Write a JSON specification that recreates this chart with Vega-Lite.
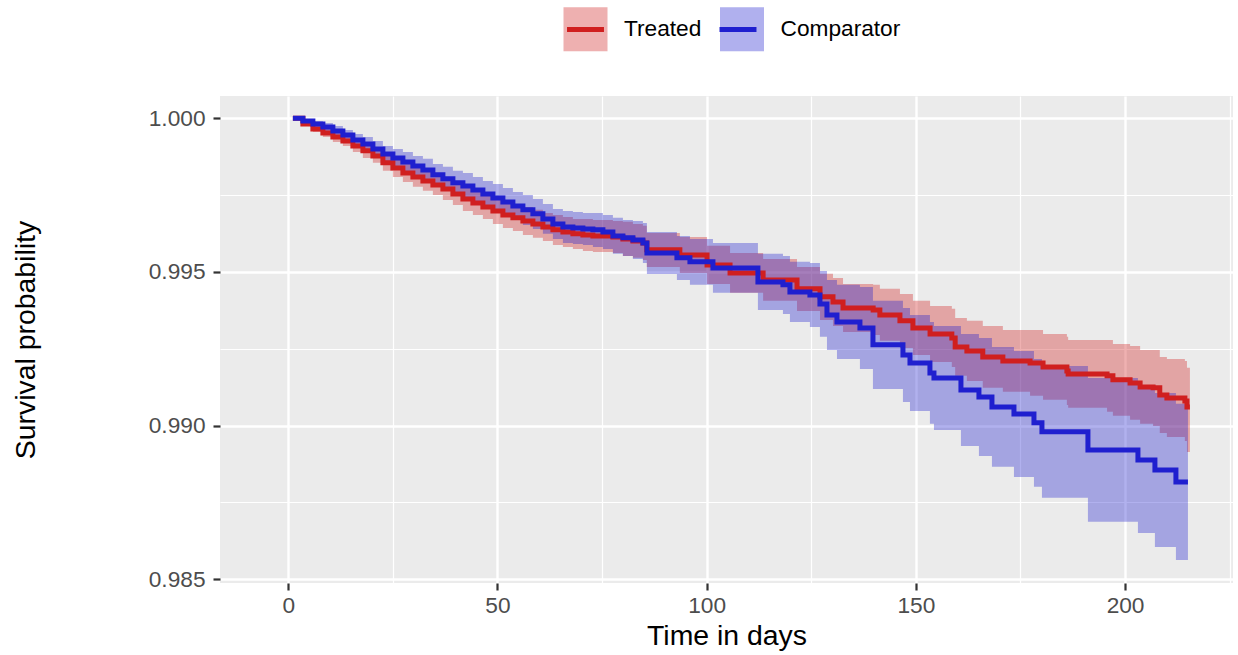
{
  "$schema": "https://vega.github.io/schema/vega-lite/v6.json",
  "width": 1013,
  "height": 487,
  "autosize": {"type": "none"},
  "padding": {"left": 220, "top": 96, "right": 5, "bottom": 72},
  "background": "white",
  "config": {
    "view": {"fill": "#EBEBEB", "stroke": null},
    "font": "Liberation Sans",
    "axis": {
      "domain": false, "grid": true, "gridColor": "#FFFFFF", "gridWidth": 2.4,
      "tickColor": "#333333", "tickWidth": 2.2, "tickSize": 7,
      "labelFont": "Liberation Sans", "labelFontSize": 22.7, "labelColor": "#4D4D4D",
      "titleFont": "Liberation Sans", "titleFontSize": 28.4, "titleFontWeight": "normal", "titleColor": "#000000"
    },
    "legend": {
      "padding": 0, "labelFont": "Liberation Sans", "labelFontSize": 22.7, "labelColor": "#000000",
      "labelOffset": 14, "columnPadding": 7.5, "symbolSize": 1936, "symbolStrokeWidth": 5
    }
  },
  "datasets": {
    "km": [
      {"group":"Treated","day":1.12,"surv":1.0,"lo":1.0,"up":1.0},
      {"group":"Treated","day":3.51,"surv":0.99981,"lo":0.99975,"up":0.99988},
      {"group":"Treated","day":5.9,"surv":0.99965,"lo":0.99955,"up":0.99975},
      {"group":"Treated","day":8.29,"surv":0.99952,"lo":0.99939,"up":0.99965},
      {"group":"Treated","day":10.68,"surv":0.99939,"lo":0.99923,"up":0.99955},
      {"group":"Treated","day":13.07,"surv":0.99926,"lo":0.9991,"up":0.99942},
      {"group":"Treated","day":15.46,"surv":0.9991,"lo":0.9989,"up":0.99929},
      {"group":"Treated","day":17.85,"surv":0.99894,"lo":0.99871,"up":0.99916},
      {"group":"Treated","day":20.24,"surv":0.99877,"lo":0.99855,"up":0.999},
      {"group":"Treated","day":22.63,"surv":0.99855,"lo":0.99829,"up":0.99881},
      {"group":"Treated","day":25.02,"surv":0.99838,"lo":0.99809,"up":0.99868},
      {"group":"Treated","day":27.41,"surv":0.99822,"lo":0.99793,"up":0.99851},
      {"group":"Treated","day":29.8,"surv":0.99809,"lo":0.99777,"up":0.99842},
      {"group":"Treated","day":32.19,"surv":0.99796,"lo":0.99764,"up":0.99829},
      {"group":"Treated","day":34.58,"surv":0.99783,"lo":0.9975,"up":0.99816},
      {"group":"Treated","day":36.97,"surv":0.9977,"lo":0.99734,"up":0.99806},
      {"group":"Treated","day":39.36,"surv":0.99754,"lo":0.99718,"up":0.9979},
      {"group":"Treated","day":41.75,"surv":0.99737,"lo":0.99698,"up":0.99777},
      {"group":"Treated","day":44.14,"surv":0.99724,"lo":0.99685,"up":0.99764},
      {"group":"Treated","day":46.53,"surv":0.99711,"lo":0.99672,"up":0.9975},
      {"group":"Treated","day":48.92,"surv":0.99698,"lo":0.99656,"up":0.99741},
      {"group":"Treated","day":51.31,"surv":0.99685,"lo":0.99643,"up":0.99728},
      {"group":"Treated","day":53.7,"surv":0.99676,"lo":0.99633,"up":0.99718},
      {"group":"Treated","day":56.09,"surv":0.99666,"lo":0.9962,"up":0.99711},
      {"group":"Treated","day":58.48,"surv":0.99656,"lo":0.99611,"up":0.99702},
      {"group":"Treated","day":60.87,"surv":0.99646,"lo":0.99601,"up":0.99692},
      {"group":"Treated","day":63.26,"surv":0.99637,"lo":0.99588,"up":0.99685},
      {"group":"Treated","day":65.65,"surv":0.9963,"lo":0.99581,"up":0.99679},
      {"group":"Treated","day":68.04,"surv":0.99624,"lo":0.99575,"up":0.99672},
      {"group":"Treated","day":70.43,"surv":0.9962,"lo":0.99568,"up":0.99672},
      {"group":"Treated","day":72.82,"surv":0.99617,"lo":0.99565,"up":0.99669},
      {"group":"Treated","day":77.6,"surv":0.99614,"lo":0.99562,"up":0.99666},
      {"group":"Treated","day":79.99,"surv":0.99607,"lo":0.99552,"up":0.99663},
      {"group":"Treated","day":82.38,"surv":0.99601,"lo":0.99546,"up":0.99656},
      {"group":"Treated","day":84.77,"surv":0.99594,"lo":0.99539,"up":0.9965},
      {"group":"Treated","day":85.7,"surv":0.99572,"lo":0.99516,"up":0.99627},
      {"group":"Treated","day":93.6,"surv":0.99555,"lo":0.99497,"up":0.99614},
      {"group":"Treated","day":100.1,"surv":0.99523,"lo":0.99461,"up":0.99585},
      {"group":"Treated","day":105.6,"surv":0.99497,"lo":0.99432,"up":0.99562},
      {"group":"Treated","day":113.5,"surv":0.99474,"lo":0.99406,"up":0.99542},
      {"group":"Treated","day":121.6,"surv":0.99445,"lo":0.99373,"up":0.99516},
      {"group":"Treated","day":127.1,"surv":0.99419,"lo":0.99344,"up":0.99494},
      {"group":"Treated","day":130.2,"surv":0.99402,"lo":0.99324,"up":0.9948},
      {"group":"Treated","day":132.6,"surv":0.99383,"lo":0.99305,"up":0.99461},
      {"group":"Treated","day":139.8,"surv":0.99376,"lo":0.99295,"up":0.99458},
      {"group":"Treated","day":141.4,"surv":0.9936,"lo":0.99276,"up":0.99445},
      {"group":"Treated","day":146.2,"surv":0.99341,"lo":0.99253,"up":0.99428},
      {"group":"Treated","day":149.3,"surv":0.99318,"lo":0.9923,"up":0.99406},
      {"group":"Treated","day":153.4,"surv":0.99298,"lo":0.99207,"up":0.99389},
      {"group":"Treated","day":158.6,"surv":0.99285,"lo":0.99191,"up":0.9938},
      {"group":"Treated","day":159.4,"surv":0.99256,"lo":0.99162,"up":0.9935},
      {"group":"Treated","day":162.2,"surv":0.99243,"lo":0.99145,"up":0.99341},
      {"group":"Treated","day":166.0,"surv":0.99223,"lo":0.99123,"up":0.99324},
      {"group":"Treated","day":170.8,"surv":0.9921,"lo":0.9911,"up":0.99311},
      {"group":"Treated","day":177.3,"surv":0.99204,"lo":0.99097,"up":0.99311},
      {"group":"Treated","day":180.4,"surv":0.99191,"lo":0.99084,"up":0.99298},
      {"group":"Treated","day":186.1,"surv":0.99178,"lo":0.99067,"up":0.99289},
      {"group":"Treated","day":186.4,"surv":0.99168,"lo":0.99058,"up":0.99279},
      {"group":"Treated","day":195.7,"surv":0.99162,"lo":0.99045,"up":0.99279},
      {"group":"Treated","day":197.1,"surv":0.99149,"lo":0.99032,"up":0.99266},
      {"group":"Treated","day":201.2,"surv":0.99139,"lo":0.99019,"up":0.99259},
      {"group":"Treated","day":203.6,"surv":0.99126,"lo":0.99006,"up":0.99246},
      {"group":"Treated","day":206.7,"surv":0.99123,"lo":0.98999,"up":0.99246},
      {"group":"Treated","day":208.3,"surv":0.991,"lo":0.98976,"up":0.99223},
      {"group":"Treated","day":210.0,"surv":0.9909,"lo":0.98963,"up":0.99217},
      {"group":"Treated","day":214.3,"surv":0.9908,"lo":0.9895,"up":0.9921},
      {"group":"Treated","day":214.8,"surv":0.99061,"lo":0.98914,"up":0.99188},
      {"group":"Treated","day":215.5,"surv":0.99061,"lo":0.98914,"up":0.99188},
      {"group":"Comparator","day":1.12,"surv":1.0,"lo":1.0,"up":1.0},
      {"group":"Comparator","day":3.51,"surv":0.99991,"lo":0.99985,"up":0.99998},
      {"group":"Comparator","day":5.9,"surv":0.99981,"lo":0.99972,"up":0.99991},
      {"group":"Comparator","day":8.29,"surv":0.99972,"lo":0.99959,"up":0.99985},
      {"group":"Comparator","day":10.68,"surv":0.99959,"lo":0.99942,"up":0.99975},
      {"group":"Comparator","day":13.07,"surv":0.99946,"lo":0.99929,"up":0.99962},
      {"group":"Comparator","day":15.46,"surv":0.99929,"lo":0.9991,"up":0.99949},
      {"group":"Comparator","day":17.85,"surv":0.99916,"lo":0.99894,"up":0.99939},
      {"group":"Comparator","day":20.24,"surv":0.999,"lo":0.99874,"up":0.99926},
      {"group":"Comparator","day":22.63,"surv":0.99884,"lo":0.99858,"up":0.9991},
      {"group":"Comparator","day":25.02,"surv":0.99871,"lo":0.99842,"up":0.999},
      {"group":"Comparator","day":27.41,"surv":0.99858,"lo":0.99825,"up":0.9989},
      {"group":"Comparator","day":29.8,"surv":0.99845,"lo":0.99812,"up":0.99877},
      {"group":"Comparator","day":32.19,"surv":0.99832,"lo":0.99796,"up":0.99868},
      {"group":"Comparator","day":34.58,"surv":0.99816,"lo":0.9978,"up":0.99851},
      {"group":"Comparator","day":36.97,"surv":0.99803,"lo":0.99764,"up":0.99842},
      {"group":"Comparator","day":39.36,"surv":0.9979,"lo":0.9975,"up":0.99829},
      {"group":"Comparator","day":41.75,"surv":0.9978,"lo":0.99737,"up":0.99822},
      {"group":"Comparator","day":44.14,"surv":0.99767,"lo":0.99724,"up":0.99809},
      {"group":"Comparator","day":46.53,"surv":0.99754,"lo":0.99711,"up":0.99796},
      {"group":"Comparator","day":48.92,"surv":0.99741,"lo":0.99695,"up":0.99786},
      {"group":"Comparator","day":51.31,"surv":0.99728,"lo":0.99682,"up":0.99773},
      {"group":"Comparator","day":53.7,"surv":0.99715,"lo":0.99669,"up":0.9976},
      {"group":"Comparator","day":56.09,"surv":0.99702,"lo":0.99653,"up":0.9975},
      {"group":"Comparator","day":58.48,"surv":0.99689,"lo":0.9964,"up":0.99737},
      {"group":"Comparator","day":60.87,"surv":0.99672,"lo":0.99624,"up":0.99721},
      {"group":"Comparator","day":63.26,"surv":0.99656,"lo":0.99607,"up":0.99705},
      {"group":"Comparator","day":65.65,"surv":0.99646,"lo":0.99594,"up":0.99698},
      {"group":"Comparator","day":68.04,"surv":0.99643,"lo":0.99591,"up":0.99695},
      {"group":"Comparator","day":70.43,"surv":0.9964,"lo":0.99588,"up":0.99692},
      {"group":"Comparator","day":72.82,"surv":0.99637,"lo":0.99581,"up":0.99692},
      {"group":"Comparator","day":75.21,"surv":0.9963,"lo":0.99575,"up":0.99685},
      {"group":"Comparator","day":77.6,"surv":0.99617,"lo":0.99559,"up":0.99676},
      {"group":"Comparator","day":79.99,"surv":0.99611,"lo":0.99552,"up":0.99669},
      {"group":"Comparator","day":82.38,"surv":0.99604,"lo":0.99542,"up":0.99666},
      {"group":"Comparator","day":84.77,"surv":0.99594,"lo":0.99529,"up":0.99659},
      {"group":"Comparator","day":85.73,"surv":0.99562,"lo":0.99493,"up":0.9963},
      {"group":"Comparator","day":92.9,"surv":0.99546,"lo":0.99474,"up":0.99617},
      {"group":"Comparator","day":96.01,"surv":0.99533,"lo":0.99458,"up":0.99607},
      {"group":"Comparator","day":101.51,"surv":0.99513,"lo":0.99432,"up":0.99594},
      {"group":"Comparator","day":112.26,"surv":0.99467,"lo":0.99376,"up":0.99559},
      {"group":"Comparator","day":118.24,"surv":0.99458,"lo":0.99363,"up":0.99552},
      {"group":"Comparator","day":119.91,"surv":0.99435,"lo":0.99337,"up":0.99533},
      {"group":"Comparator","day":124.69,"surv":0.99425,"lo":0.99321,"up":0.99529},
      {"group":"Comparator","day":127.08,"surv":0.99396,"lo":0.99289,"up":0.99503},
      {"group":"Comparator","day":128.76,"surv":0.9936,"lo":0.99246,"up":0.99474},
      {"group":"Comparator","day":131.15,"surv":0.99337,"lo":0.99217,"up":0.99458},
      {"group":"Comparator","day":136.64,"surv":0.99318,"lo":0.99184,"up":0.99451},
      {"group":"Comparator","day":139.75,"surv":0.99263,"lo":0.99119,"up":0.99406},
      {"group":"Comparator","day":146.92,"surv":0.9923,"lo":0.99077,"up":0.99383},
      {"group":"Comparator","day":148.6,"surv":0.99204,"lo":0.99048,"up":0.9936},
      {"group":"Comparator","day":153.37,"surv":0.99171,"lo":0.99006,"up":0.99337},
      {"group":"Comparator","day":154.33,"surv":0.99155,"lo":0.98986,"up":0.99324},
      {"group":"Comparator","day":160.78,"surv":0.99116,"lo":0.98934,"up":0.99298},
      {"group":"Comparator","day":165.08,"surv":0.99093,"lo":0.98901,"up":0.99285},
      {"group":"Comparator","day":168.19,"surv":0.99061,"lo":0.98866,"up":0.99256},
      {"group":"Comparator","day":173.45,"surv":0.99038,"lo":0.98833,"up":0.99243},
      {"group":"Comparator","day":178.23,"surv":0.99009,"lo":0.98801,"up":0.99217},
      {"group":"Comparator","day":180.14,"surv":0.9898,"lo":0.98765,"up":0.99194},
      {"group":"Comparator","day":191.13,"surv":0.98921,"lo":0.98687,"up":0.99155},
      {"group":"Comparator","day":203.08,"surv":0.98888,"lo":0.98651,"up":0.99126},
      {"group":"Comparator","day":207.14,"surv":0.98856,"lo":0.98605,"up":0.99106},
      {"group":"Comparator","day":212.16,"surv":0.98817,"lo":0.98563,"up":0.99071},
      {"group":"Comparator","day":215.03,"surv":0.98817,"lo":0.98563,"up":0.99071}
    ]
  },
  "layer": [
    {
      "data": {"name": "km"},
      "encoding": {
        "x": {"field": "day", "type": "quantitative", "title": "Time in days",
              "scale": {"domain": [-16.3, 225.8], "nice": false, "zero": false},
              "axis": {"orient": "top", "values": [25, 75, 125, 175, 225], "grid": true, "gridWidth": 1.2, "labels": false, "ticks": false, "title": null}},
        "y": {"field": "up", "type": "quantitative", "title": "Survival probability",
              "scale": {"domain": [0.98488, 1.000725], "nice": false, "zero": false},
              "axis": {"orient": "right", "values": [0.9875, 0.9925, 0.9975], "grid": true, "gridWidth": 1.2, "labels": false, "ticks": false, "title": null}},
        "y2": {"field": "lo"},
        "fill": {"field": "group", "type": "nominal",
                 "scale": {"domain": ["Treated", "Comparator"], "range": ["#D01F1F", "#1F1FCF"]},
                 "legend": {"title": null, "orient": "none", "legendX": 341, "legendY": -91.5, "direction": "horizontal",
                            "symbolType": "square", "symbolOpacity": 0.35, "symbolStrokeWidth": 5, "symbolStrokeColor": "transparent"}}
      },
      "layer": [
        {"transform": [{"filter": "datum.group === 'Treated'"}],
         "mark": {"type": "area", "interpolate": "step-after", "opacity": 0.35}},
        {"transform": [{"filter": "datum.group === 'Comparator'"}],
         "mark": {"type": "area", "interpolate": "step-after", "opacity": 0.35}}
      ]
    },
    {
      "data": {"name": "km"},
      "encoding": {
        "x": {"field": "day", "type": "quantitative", "title": "Time in days",
              "scale": {"domain": [-16.3, 225.8], "nice": false, "zero": false},
              "axis": {"orient": "bottom", "values": [0, 50, 100, 150, 200], "grid": true, "gridWidth": 2.4, "gridColor": "#FFFFFF", "labelPadding": 4, "titlePadding": 6}},
        "y": {"field": "surv", "type": "quantitative", "title": "Survival probability",
              "scale": {"domain": [0.98488, 1.000725], "nice": false, "zero": false},
              "axis": {"orient": "left", "values": [0.985, 0.99, 0.995, 1.0], "format": ".3f", "grid": true, "gridWidth": 2.4, "gridColor": "#FFFFFF", "labelPadding": 8, "titlePadding": 108}},
        "stroke": {"field": "group", "type": "nominal",
                   "scale": {"domain": ["Comparator", "Treated"], "range": ["#1F1FCF", "#D01F1F"]},
                   "legend": {"title": null, "orient": "none", "legendX": 341, "legendY": -91.5, "direction": "horizontal",
                              "values": ["Treated", "Comparator"], "symbolType": "M-0.84,0H0.84", "symbolStrokeWidth": 5, "labelOpacity": 0}}
      },
      "layer": [
        {"transform": [{"filter": "datum.group === 'Treated'"}],
         "mark": {"type": "line", "interpolate": "step-after", "strokeWidth": 5, "strokeCap": "butt"}},
        {"transform": [{"filter": "datum.group === 'Comparator'"}],
         "mark": {"type": "line", "interpolate": "step-after", "strokeWidth": 5, "strokeCap": "butt"}}
      ]
    }
  ],
  "resolve": {"axis": {"x": "independent", "y": "independent"}}
}
